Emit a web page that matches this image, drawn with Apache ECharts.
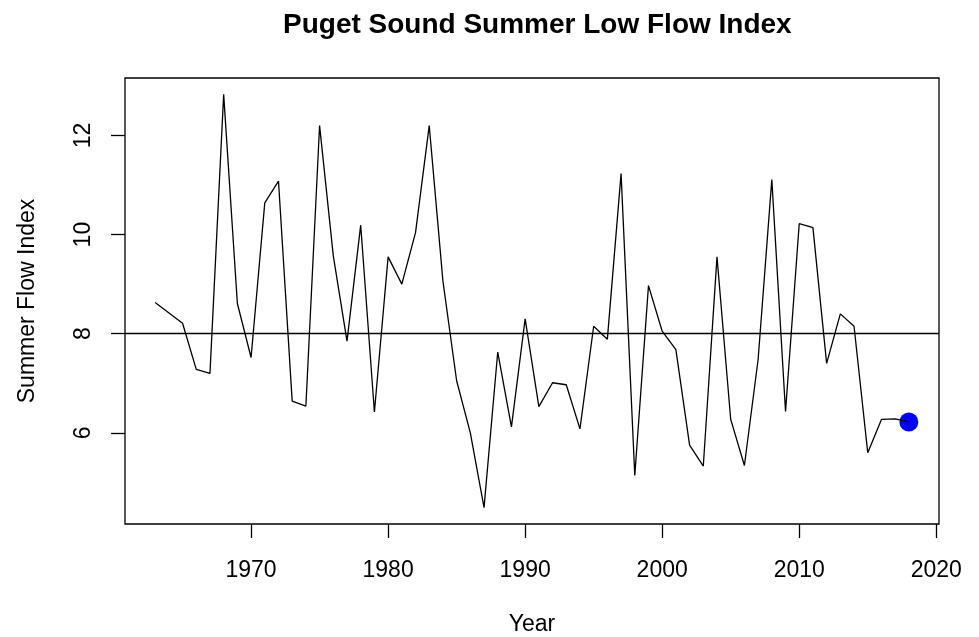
<!DOCTYPE html>
<html>
<head>
<meta charset="utf-8">
<script src="https://cdn.jsdelivr.net/npm/echarts@6/dist/echarts.min.js"></script>
<style>html,body{margin:0;padding:0;background:#fff;}#c{width:979px;height:637px;}</style>
</head>
<body>
<div id="c"></div>
<script>
const years = [1963,1965,1966,1967,1968,1969,1970,1971,1972,1973,1974,1975,1976,1977,1978,1979,1980,1981,1982,1983,1984,1985,1986,1987,1988,1989,1990,1991,1992,1993,1994,1995,1996,1997,1998,1999,2000,2001,2002,2003,2004,2005,2006,2007,2008,2009,2010,2011,2012,2013,2014,2015,2016,2017,2018];
const flowIndex = [8.63,8.21,7.28,7.20,12.83,8.61,7.52,10.64,11.08,6.64,6.54,12.20,9.57,7.85,10.19,6.42,9.55,9.00,10.04,12.20,9.06,7.05,6.00,4.49,7.63,6.12,8.30,6.53,7.01,6.97,6.08,8.15,7.89,11.23,5.14,8.97,8.05,7.68,5.75,5.33,9.55,6.27,5.34,7.48,11.11,6.43,10.22,10.14,7.40,8.40,8.15,5.60,6.27,6.28,6.22];
const xTicks = [1970,1980,1990,2000,2010,2020];
const yTicks = [6,8,10,12];
const refLevel = 8;
const highlightYear = 2018;

const lineData = years.map((y,i)=>[y, flowIndex[i]]);
const hi = years.indexOf(highlightYear);
const font = 'Liberation Sans, Arial, sans-serif';

const chart = echarts.init(document.getElementById('c'), null, {renderer:'canvas'});
chart.setOption({
  animation:false,
  backgroundColor:'#fff',
  title:{text:'Puget Sound Summer Low Flow Index', left:278, top:6,
    textStyle:{fontFamily:font, fontWeight:'bold', fontSize:28, color:'#000'}},
  grid:{left:125, right:40, top:78, bottom:113, show:true, borderColor:'#000', borderWidth:1.3,
    backgroundColor:'transparent', containLabel:false, outerBoundsMode:'none'},
  xAxis:{type:'value', min:1960.8, max:2020.2,
    name:'Year', nameLocation:'middle', nameGap:89,
    nameTextStyle:{fontFamily:font, fontSize:23, color:'#000'},
    axisLine:{show:false},
    splitLine:{show:false},
    axisTick:{show:true, inside:false, length:14, customValues:xTicks, lineStyle:{color:'#000', width:1.3}},
    axisLabel:{fontFamily:font, fontSize:23, color:'#000', margin:35, customValues:xTicks,
      formatter:(v)=>String(Math.round(v))}
  },
  yAxis:{type:'value', min:4.16, max:13.16,
    name:'Summer Flow Index', nameLocation:'middle', nameGap:86, nameRotate:90,
    nameTextStyle:{fontFamily:font, fontSize:23, color:'#000'},
    axisLine:{show:false},
    splitLine:{show:false},
    axisTick:{show:true, inside:false, length:14, customValues:yTicks, lineStyle:{color:'#000', width:1.3}},
    axisLabel:{fontFamily:font, fontSize:23, color:'#000', margin:30, rotate:90, customValues:yTicks}
  },
  series:[
    {type:'line', data:lineData, showSymbol:false, symbol:'none',
     lineStyle:{color:'#000', width:1.3},
     markLine:{silent:true, symbol:['none','none'], label:{show:false},
       lineStyle:{color:'#000', width:1.3, type:'solid'},
       data:[{yAxis:refLevel}]}},
    {type:'scatter', data:[lineData[hi]], symbol:'circle', symbolSize:19,
     itemStyle:{color:'#0000ff', opacity:1}}
  ]
});
</script>
</body>
</html>
